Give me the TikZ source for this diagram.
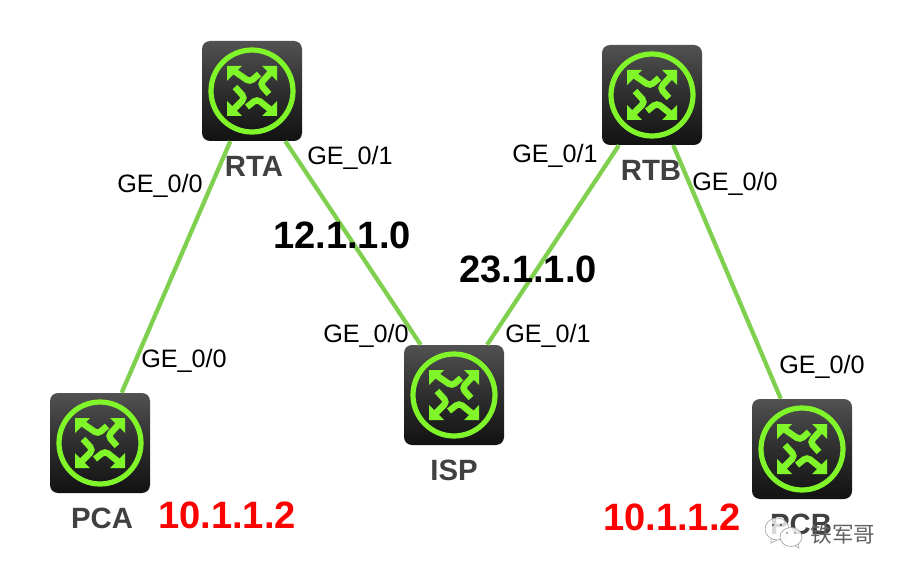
\documentclass[tikz,border=0pt]{standalone}
\usepackage{fontspec}
\setmainfont{Liberation Sans}
\newfontfamily\cjkwm{Noto Sans CJK SC}
\definecolor{linkgreen}{HTML}{7FD04F}
\definecolor{glyphgreen}{HTML}{7FF52A}
\definecolor{labelgray}{HTML}{404040}
\tikzset{
  routerbox/.style={rectangle,minimum size=75pt,inner sep=0pt,rounded corners=6pt,top color=black!68,bottom color=black!93,middle color=black!82},
  link/.style={draw=linkgreen,line width=3.2pt},
  port/.style={font=\fontsize{18.9pt}{20pt}\selectfont,text=black,inner sep=0pt},
  devname/.style={font=\fontsize{22pt}{24pt}\selectfont\bfseries,text=labelgray,inner sep=0pt},
  netlabel/.style={font=\fontsize{28.6pt}{30pt}\selectfont\bfseries,text=black,inner sep=0pt},
  iplabel/.style={font=\fontsize{28.6pt}{30pt}\selectfont\bfseries,text=red,inner sep=0pt},
  stem/.style={draw=glyphgreen,line width=4.8pt,rounded corners=3pt},
  pics/routerglyph/.style={code={
    \draw[glyphgreen,line width=3.9pt] (0,0) circle[radius=41];
    \draw[stem] (7,-17)--(-2,-9)--(-18,-20);
    \draw[stem] (17,3)--(8,-7)--(20,-20);
    \draw[stem] (-5,16)--(5,8)--(20,20);
    \draw[stem] (-17,-4)--(-7,7)--(-20,20);
    \fill[glyphgreen] (-25,-25)--(-10,-25)--(-25,-10)--cycle;
    \fill[glyphgreen] (25,-25)--(10,-25)--(25,-10)--cycle;
    \fill[glyphgreen] (25,25)--(10,25)--(25,10)--cycle;
    \fill[glyphgreen] (-25,25)--(-10,25)--(-25,10)--cycle;
  }}
}
\begin{document}
\begin{tikzpicture}[x=0.75pt,y=-0.75pt]
\useasboundingbox (0,0) rectangle (904,574);
\fill[white] (0,0) rectangle (904,574);
% routers
\node[routerbox] (RTA) at (252,91) {};
\node[routerbox] (RTB) at (652,95) {};
\node[routerbox] (ISP) at (454,395) {};
\node[routerbox] (PCA) at (100,443) {};
\node[routerbox] (PCB) at (802,449) {};
\pic at (RTA.center) {routerglyph};
\pic at (RTB.center) {routerglyph};
\pic at (ISP.center) {routerglyph};
\pic at (PCA.center) {routerglyph};
\pic at (PCB.center) {routerglyph};
% links
\draw[link] (RTA) -- (PCA);
\draw[link] (RTA) -- (ISP);
\draw[link] (RTB) -- (ISP);
\draw[link] (RTB) -- (PCB);
% device names
\node[devname] (nRTA) at (254,166) {RTA};
\node[devname] (nRTB) at (651,170) {RTB};
\node[devname] (nISP) at (454,470) {ISP};
\node[devname] (nPCA) at (102,518) {PCA};
\node[devname] (nPCB) at (801,524) {PCB};
% port labels
\node[port] (p1) at (160,186) {GE\_0/0};
\node[port] (p2) at (350,158) {GE\_0/1};
\node[port] (p3) at (184,361) {GE\_0/0};
\node[port] (p4) at (366,336) {GE\_0/0};
\node[port] (p5) at (548,336) {GE\_0/1};
\node[port] (p6) at (555,156) {GE\_0/1};
\node[port] (p7) at (735,184) {GE\_0/0};
\node[port] (p8) at (822,367) {GE\_0/0};
% network labels
\node[netlabel] (n1) at (342,235) {12.1.1.0};
\node[netlabel] (n2) at (528,269) {23.1.1.0};
\node[iplabel] (ip1) at (227,515) {10.1.1.2};
\node[iplabel] (ip2) at (672,517) {10.1.1.2};
% watermark
\draw[black!35,line width=0.5pt,fill=white,fill opacity=0.8] (777,529) ellipse[x radius=12,y radius=11];
\draw[black!35,line width=0.5pt] (771,539)--(771,543)--(777,540);
\draw[black!35,line width=0.5pt,fill=white,fill opacity=0.85] (791,537) ellipse[x radius=11,y radius=9.5];
\draw[black!35,line width=0.5pt] (795,546)--(799,548)--(798,544);
\fill[black!75] (773,525) circle[radius=1.1] (781,525) circle[radius=1.1];
\fill[black!60] (787,533) circle[radius=0.9] (795,533) circle[radius=0.9];
\node[font=\cjkwm\fontsize{16.2pt}{18pt}\selectfont,text=black!62,inner sep=0pt] (wm) at (843,534) {铁军哥};
\end{tikzpicture}
\end{document}
